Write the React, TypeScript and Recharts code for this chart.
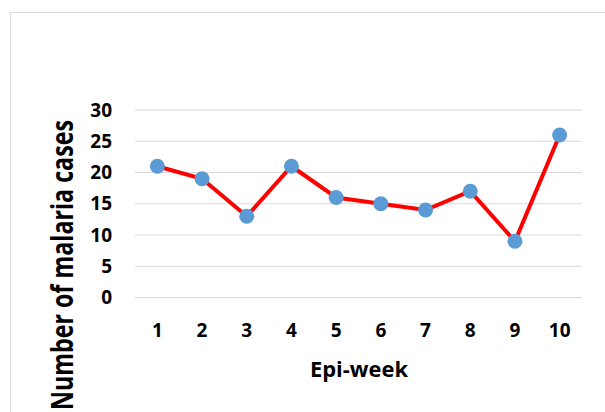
import React from 'react';
import { LineChart, Line, XAxis, YAxis, CartesianGrid } from 'recharts';

const weeks = ['1', '2', '3', '4', '5', '6', '7', '8', '9', '10'];
const cases = [21, 19, 13, 21, 16, 15, 14, 17, 9, 26];
const yTicks = [0, 5, 10, 15, 20, 25, 30];

const data = weeks.map((week, i) => ({ week, cases: cases[i] }));

const FONT = '"Open Sans", sans-serif';

// axis titles sit at fixed spots, like the Excel layout
const YTitle = () => (
  <text
    transform="translate(73,410) rotate(-90)"
    textAnchor="start"
    textLength={290}
    lengthAdjust="spacingAndGlyphs"
    fontFamily={FONT}
    fontWeight={700}
    fontSize={30}
    fill="#000"
  >
    Number of malaria cases
  </text>
);

const XTitle = () => (
  <text
    x={359}
    y={377}
    textAnchor="middle"
    textLength={98}
    lengthAdjust="spacingAndGlyphs"
    fontFamily={FONT}
    fontWeight={700}
    fontSize={21}
    fill="#000"
  >
    Epi-week
  </text>
);

const tickStyle = { fontFamily: FONT, fontWeight: 700, fontSize: 19, fill: '#000' };

const App: React.FC = () => {
  return (
    <div style={{ position: 'absolute', left: 0, top: 0, width: 605, height: 412, overflow: 'hidden', background: '#fff' }}>
      <div
        style={{
          position: 'absolute',
          left: 10,
          top: 12,
          width: 640,
          height: 440,
          border: '1.5px solid #d9d9d9',
        }}
      />
      <div style={{ position: 'absolute', left: 0, top: 0 }}>
        <LineChart width={605} height={412} data={data} margin={{ top: 110, right: 23, left: 75, bottom: 74.5 }}>
          <CartesianGrid vertical={false} stroke="#d9d9d9" strokeWidth={1.2} />
          <XAxis
            dataKey="week"
            axisLine={false}
            tickLine={false}
            tickSize={0}
            tickMargin={26}
            height={40}
            padding={{ left: 22.35, right: 22.35 }}
            tick={tickStyle}
            interval={0}
            label={<XTitle />}
          />
          <YAxis
            domain={[0, 30]}
            ticks={yTicks}
            width={60}
            axisLine={false}
            tickLine={false}
            tickSize={0}
            tickMargin={23}
            tick={tickStyle}
            label={<YTitle />}
          />
          <Line
            type="linear"
            dataKey="cases"
            stroke="#ff0000"
            strokeWidth={4}
            dot={{ r: 7.5, fill: '#5b9bd5', stroke: 'none' }}
            activeDot={false}
            isAnimationActive={false}
          />
        </LineChart>
      </div>
    </div>
  );
};

export default App;
